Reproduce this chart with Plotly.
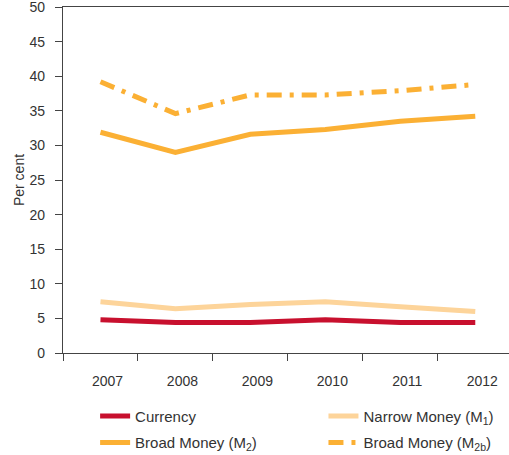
import plotly.graph_objects as go

years = ["2007", "2008", "2009", "2010", "2011", "2012"]
currency = [4.8, 4.4, 4.4, 4.8, 4.4, 4.4]
narrow_m1 = [7.4, 6.4, 7.0, 7.4, 6.7, 6.0]
broad_m2 = [31.9, 29.0, 31.6, 32.3, 33.5, 34.2]
broad_m2b = [39.2, 34.6, 37.3, 37.3, 37.9, 38.8]
y_ticks = [0, 5, 10, 15, 20, 25, 30, 35, 40, 45, 50]

names = ["Currency", "Narrow Money (M<sub>1</sub>)", "Broad Money (M<sub>2</sub>)", "Broad Money (M<sub>2b</sub>)"]
colors = ["#C8102E", "#FDD49A", "#FBB034", "#FBB034"]
dashes = ["solid", "solid", "solid", "15px,8px,4px,8px"]
legends = ["legend", "legend2", "legend", "legend2"]
series = [currency, narrow_m1, broad_m2, broad_m2b]

FAM = "Liberation Sans, Arial, sans-serif"
fig = go.Figure()
for i, (n, c, d, lg, s) in enumerate(zip(names, colors, dashes, legends, series)):
    fig.add_trace(go.Scatter(x=years, y=s, name=n, mode="lines", legend=lg,
                             legendgroup=str(i),
                             line=dict(color=c, width=5, dash=d)))

font = dict(family=FAM, size=14, color="#333333")
legfont = dict(family=FAM, size=15, color="#333333")
common_leg = dict(orientation="v", yanchor="top", y=-0.135, xanchor="left",
                  font=legfont, tracegroupgap=4, bgcolor="rgba(0,0,0,0)",
                  itemwidth=30)
fig.update_layout(
    width=509, height=455,
    margin=dict(l=63, r=0, t=7, b=102, autoexpand=False),
    plot_bgcolor="white", paper_bgcolor="white",
    font=font,
    showlegend=True,
    legend=dict(x=0.072, **common_leg),
    legend2=dict(x=0.584, **common_leg),
    xaxis=dict(type="category", range=[-0.5, 5.45], showline=True, linecolor="#444444",
               linewidth=1.2, mirror=True, ticks="outside", ticklen=7, tickcolor="#444444",
               tickson="boundaries", showgrid=False, zeroline=False, automargin=False,
               ticklabelstandoff=15, ticklabelshift=7, tickfont=font),
    yaxis=dict(range=[0, 50], tickvals=y_ticks, showline=True, linecolor="#444444",
               linewidth=1.2, ticks="outside", ticklen=7, tickcolor="#444444",
               showgrid=False, zeroline=False, automargin=False, tickfont=font,
               ticklabelstandoff=7, ticklabeloverflow="allow",
               title=dict(text="Per cent", font=font, standoff=1)),
)
fig.write_html("out.html", config={"displayModeBar": False},
               post_script="document.body.style.margin='0';document.body.style.overflow='hidden';")
